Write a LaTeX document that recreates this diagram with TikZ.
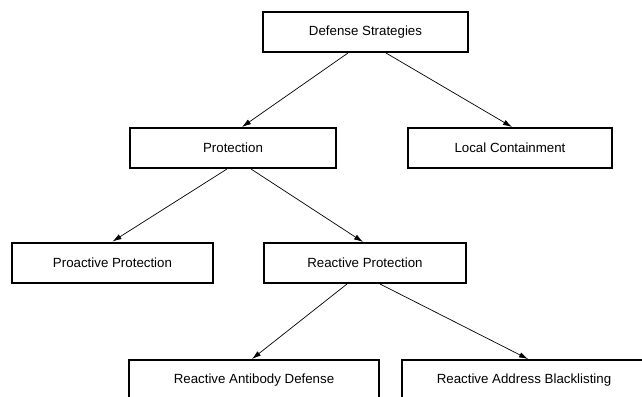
\documentclass[tikz,border=0pt]{standalone}
\usepackage{fontspec}
\setmainfont{Liberation Sans}
\usetikzlibrary{arrows.meta}
\begin{document}
\begin{tikzpicture}[x=1pt,y=-1pt,
  box/.style={draw=black,line width=2pt,fill=white,minimum height=40pt,inner sep=0pt,font=\fontsize{13.3}{15}\selectfont},
  arr/.style={draw=black,line width=0.7pt,-{Latex[length=9pt,width=5.5pt]}}]
\clip (0,0) rectangle (642,396);
\fill[white] (0,0) rectangle (642,396);
\node[box,minimum width=205pt] (ds) at (365.5,32) {Defense Strategies};
\node[box,minimum width=206pt] (prot) at (233,148) {Protection};
\node[box,minimum width=204pt] (lc) at (510,148) {Local Containment};
\node[box,minimum width=201pt] (pro) at (112.5,262.5) {Proactive Protection};
\node[box,minimum width=202pt] (rp) at (365,263) {Reactive Protection};
\node[box,minimum width=250pt] (rad) at (254,380) {Reactive Antibody Defense};
\node[box,minimum width=244pt] (rab) at (524,380) {Reactive Address Blacklisting};
\draw[arr] ([xshift=-17.5pt]ds.south) -- ([xshift=9pt]prot.north);
\draw[arr] ([xshift=20.5pt]ds.south) -- ([xshift=2pt]lc.north);
\draw[arr] ([xshift=-6pt]prot.south) -- (pro.north);
\draw[arr] ([xshift=18pt]prot.south) -- ([xshift=-2pt]rp.north);
\draw[arr] ([xshift=-18pt]rp.south) -- ([xshift=-2pt]rad.north);
\draw[arr] ([xshift=15pt]rp.south) -- ([xshift=4pt]rab.north);
\end{tikzpicture}
\end{document}
